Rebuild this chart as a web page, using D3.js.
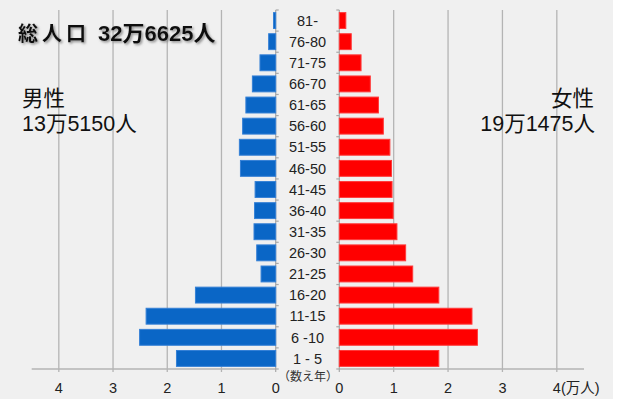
<!DOCTYPE html>
<html><head><meta charset="utf-8">
<script src="https://cdn.jsdelivr.net/npm/d3@7"></script>
<style>
html,body{margin:0;padding:0;background:#fff;}
svg{display:block;}
text{font-family:"Liberation Sans","Noto Sans CJK JP",sans-serif;}
</style></head>
<body>
<svg id="c" width="620" height="404"></svg>
<script>
const categories = ["81-","76-80","71-75","66-70","61-65","56-60","51-55","46-50","41-45","36-40","31-35","26-30","21-25","16-20","11-15","6 -10","1 - 5"];
const male   = [0.04,0.13,0.29,0.43,0.55,0.61,0.67,0.65,0.38,0.39,0.40,0.35,0.27,1.48,2.39,2.51,1.83];
const female = [0.12,0.22,0.40,0.57,0.72,0.81,0.93,0.96,0.97,0.99,1.06,1.22,1.35,1.83,2.44,2.54,1.83];
const ticks = [0,1,2,3,4];
const titleParts = ["総人口","32万6625人"];
const maleLabel = ["男性","13万5150人"];
const femaleLabel = ["女性","19万1475人"];
const ageNote = "（数え年）";
const unitLabel = "(万人)";

const svg = d3.select("#c");
svg.append("rect").attr("x",0).attr("y",0).attr("width",613).attr("height",399).attr("fill","#f0f0f0");

const defs = svg.append("defs");
const f = defs.append("filter").attr("id","sh").attr("x","-10%").attr("y","-30%").attr("width","120%").attr("height","160%");
f.append("feDropShadow").attr("dx",1.5).attr("dy",1.5).attr("stdDeviation",1.2).attr("flood-color","#777").attr("flood-opacity",0.8);

const yTop = 10, yBot = 369;
const xL = d3.scaleLinear().domain([0,4.5]).range([275.7,31.7]);
const xR = d3.scaleLinear().domain([0,4.5]).range([339.3,584]);
const y = d3.scaleBand().domain(categories).range([yTop,yBot]).paddingInner(0.2).paddingOuter(0.1);

const grid = svg.append("g").attr("stroke","#b4b4b4").attr("stroke-width",1.3);
ticks.filter(t=>t>0).forEach(t=>{
  grid.append("line").attr("x1",xL(t)).attr("x2",xL(t)).attr("y1",yTop).attr("y2",yBot+3);
  grid.append("line").attr("x1",xR(t)).attr("x2",xR(t)).attr("y1",yTop).attr("y2",yBot+3);
});
grid.append("line").attr("x1",xL(4.5)).attr("x2",xL(0)).attr("y1",yBot).attr("y2",yBot);
grid.append("line").attr("x1",xR(0)).attr("x2",xR(4.5)).attr("y1",yBot).attr("y2",yBot);
const ax = svg.append("g").attr("stroke","#a8a8a8").attr("stroke-width",1.2);
ax.append("line").attr("x1",xL(0)).attr("x2",xL(0)).attr("y1",yTop).attr("y2",yBot+3);
ax.append("line").attr("x1",xR(0)).attr("x2",xR(0)).attr("y1",yTop).attr("y2",yBot+3);
const bandTicks = categories.map(c=>y(c)-y.step()*y.paddingInner()/2).concat([yBot]);
bandTicks.forEach(v=>{
  ax.append("line").attr("x1",xL(0)).attr("x2",xL(0)+3).attr("y1",v).attr("y2",v);
  ax.append("line").attr("x1",xR(0)-3).attr("x2",xR(0)).attr("y1",v).attr("y2",v);
});

svg.append("g").selectAll("rect").data(categories).join("rect")
  .attr("x",(d,i)=>xL(male[i])).attr("y",d=>y(d)+0.5)
  .attr("width",(d,i)=>xL(0)-xL(male[i])).attr("height",y.bandwidth()-1)
  .attr("fill","#0a66c6").attr("stroke","#3580d6").attr("stroke-width",1);
svg.append("g").selectAll("rect").data(categories).join("rect")
  .attr("x",xR(0)).attr("y",d=>y(d)+0.5)
  .attr("width",(d,i)=>xR(female[i])-xR(0)).attr("height",y.bandwidth()-1)
  .attr("fill","#ff0000").attr("stroke","#ff3a3a").attr("stroke-width",1);

svg.append("g").selectAll("text").data(categories).join("text")
  .attr("x",307.5).attr("y",d=>y(d)+y.bandwidth()/2).attr("dy","0.36em")
  .attr("text-anchor","middle").attr("font-size",14.5).attr("fill","#222").text(d=>d);

svg.append("text").attr("x",308).attr("y",377).attr("dy","0.36em").attr("text-anchor","middle")
  .attr("font-size",12).attr("fill","#333").text(ageNote);

const tl = svg.append("g").attr("font-size",14.5).attr("fill","#222").attr("text-anchor","middle");
ticks.forEach(t=>{
  tl.append("text").attr("x",xL(t)).attr("y",388).attr("dy","0.36em").text(t);
  tl.append("text").attr("x",xR(t)).attr("y",388).attr("dy","0.36em").text(t);
});
svg.append("text").attr("x",561).attr("y",388).attr("dy","0.36em").attr("font-size",14.5).attr("fill","#222").text(unitLabel);

const tt = svg.append("text").attr("y",41).attr("font-weight","bold")
  .attr("fill","#111").attr("filter","url(#sh)");
tt.append("tspan").attr("x",18).attr("font-size",20).attr("letter-spacing",4).text(titleParts[0]);
tt.append("tspan").attr("x",98).attr("font-size",22).text(titleParts[1]);

const lab = svg.append("g").attr("font-size",21.5).attr("fill","#111");
lab.append("text").attr("x",22).attr("y",106).text(maleLabel[0]);
lab.append("text").attr("x",22).attr("y",131).text(maleLabel[1]);
lab.append("text").attr("x",594).attr("y",106).attr("text-anchor","end").text(femaleLabel[0]);
lab.append("text").attr("x",595).attr("y",131).attr("text-anchor","end").text(femaleLabel[1]);
</script>
</body></html>
